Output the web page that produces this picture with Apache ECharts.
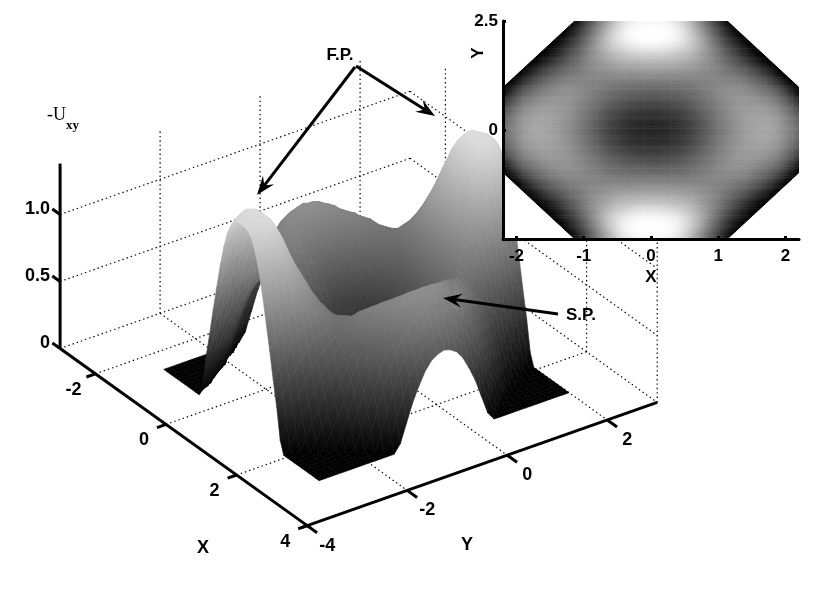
<!DOCTYPE html>
<html>
<head>
<meta charset="utf-8">
<title>-Uxy surface</title>
<style>
  html, body { margin: 0; padding: 0; background: #fff; }
  #chart { width: 819px; height: 591px; }
</style>
<script src="https://cdn.jsdelivr.net/npm/echarts@6/dist/echarts.min.js"></script>
</head>
<body>
<div id="chart"></div>
<script>
// node positions of one quadrant, the picture is symmetric in x and y
const xNodes = [0, 0.1, 0.2, 0.3, 0.4, 0.5, 0.6, 0.7, 0.8, 0.9, 1.0, 1.1, 1.2, 1.3, 1.4, 1.5, 1.6, 1.7, 1.8, 1.9, 2.0, 2.1, 2.2]
const yNodes = [0, 0.125, 0.25, 0.375, 0.5, 0.625, 0.75, 0.875, 1.0, 1.125, 1.25, 1.375, 1.5, 1.625, 1.75, 1.875, 2.0, 2.125, 2.25, 2.375, 2.5]

// level, 0 = black, 100 = white, one row per yNodes entry
const levels = [
  [15, 15, 16, 17, 19, 22, 26, 30, 35, 40, 45, 50, 54, 58, 61, 63, 65, 65, 64, 60, 55, 49, 42],
  [15, 16, 16, 18, 20, 23, 26, 31, 36, 41, 46, 50, 55, 58, 61, 63, 64, 65, 63, 60, 54, 48, 41],
  [17, 17, 18, 19, 21, 24, 28, 32, 37, 42, 47, 51, 55, 58, 61, 63, 64, 64, 62, 59, 53, 46, 39],
  [20, 20, 21, 22, 24, 27, 30, 34, 39, 43, 48, 52, 56, 59, 61, 62, 63, 62, 60, 57, 50, 43, 35],
  [24, 24, 25, 26, 28, 30, 33, 37, 41, 45, 49, 53, 57, 59, 60, 61, 61, 60, 57, 53, 46, 38, 29],
  [28, 28, 29, 30, 32, 34, 37, 40, 44, 47, 51, 54, 57, 59, 59, 59, 58, 56, 53, 48, 41, 32, 22],
  [33, 33, 34, 35, 36, 38, 40, 43, 46, 49, 52, 55, 57, 58, 58, 57, 55, 52, 48, 43, 35, 24, 13],
  [38, 38, 39, 39, 40, 42, 43, 45, 48, 50, 53, 55, 56, 56, 55, 53, 50, 47, 42, 36, 27, 15, 4],
  [43, 43, 43, 44, 44, 45, 46, 48, 50, 51, 52, 54, 54, 54, 52, 49, 45, 41, 35, 28, 18, 7, 0],
  [49, 49, 49, 49, 49, 49, 50, 50, 51, 52, 52, 52, 51, 50, 47, 44, 39, 34, 27, 19, 8, 0, 0],
  [55, 55, 55, 54, 54, 54, 54, 53, 53, 52, 51, 50, 48, 45, 42, 37, 32, 26, 18, 9, 0, 0, 0],
  [61, 61, 61, 60, 60, 59, 58, 56, 55, 53, 50, 47, 44, 40, 36, 31, 25, 18, 10, 1, 0, 0, 0],
  [68, 68, 67, 67, 66, 64, 62, 60, 57, 54, 50, 45, 40, 35, 29, 23, 16, 9, 2, 0, 0, 0, 0],
  [75, 75, 74, 73, 72, 70, 67, 63, 59, 54, 48, 42, 36, 29, 22, 15, 8, 1, 0, 0, 0, 0, 0],
  [83, 83, 82, 80, 78, 75, 71, 66, 60, 54, 47, 39, 32, 24, 16, 9, 2, 0, 0, 0, 0, 0, 0],
  [91, 91, 90, 88, 85, 81, 76, 69, 61, 53, 44, 35, 26, 18, 10, 3, 0, 0, 0, 0, 0, 0, 0],
  [97, 97, 96, 94, 91, 86, 79, 71, 61, 51, 40, 30, 21, 13, 5, 0, 0, 0, 0, 0, 0, 0, 0],
  [100, 100, 99, 97, 94, 88, 80, 70, 59, 47, 36, 25, 15, 6, 0, 0, 0, 0, 0, 0, 0, 0, 0],
  [100, 100, 100, 98, 94, 87, 78, 67, 55, 43, 31, 20, 9, 1, 0, 0, 0, 0, 0, 0, 0, 0, 0],
  [99, 99, 98, 96, 92, 84, 74, 62, 50, 38, 26, 14, 3, 0, 0, 0, 0, 0, 0, 0, 0, 0, 0],
  [97, 97, 96, 93, 88, 80, 70, 58, 46, 33, 21, 6, 0, 0, 0, 0, 0, 0, 0, 0, 0, 0, 0]
]

// tick labels
const xTicks3d = [-2, 0, 2, 4]
const yTicks3d = [-4, -2, 0, 2]
const zTicks3d = [0, 0.5, 1.0]
const insetXTicks = [-2, -1, 0, 1, 2]
const insetYTicks = [0, 2.5]

// where the octagon is cut, used to trim the inset corners
const cutAtTop = [1.15, 2.5]
const cutAtSide = [2.2, 1.0]

// axis box of the 3d plot and the oblique view
const xRange = [-3, 4]
const yRange = [-4, 3]
const zTop = 1.38
const view = { ox: 366, oy: 354, xx: 35.3, xy: 25.3, yx: 50, yy: -17.6, zy: -134 }
const surfaceShift = [0.72, -0.5]
const zPerLevel = 0.0154
const surfaceGain = 2.2
const insetGain = 2.55

function project(x, y, z) {
  return [view.ox + x * view.xx + y * view.yx, view.oy + x * view.xy + y * view.yy + z * view.zy]
}

const grayOf = (level, gain) => {
  const v = Math.min(255, Math.round(level * gain))
  return 'rgb(' + v + ',' + v + ',' + v + ')'
}

// mirror the quadrant to the whole surface
const fullX = xNodes.slice(1).reverse().map(v => -v).concat(xNodes)
const fullY = yNodes.slice(1).reverse().map(v => -v).concat(yNodes)
const levelAt = (i, j) => levels[Math.abs(j - yNodes.length + 1)][Math.abs(i - xNodes.length + 1)]

// far to near, so later quads cover earlier ones
const quads = []
for (let i = 0; i < fullX.length - 1; i++) {
  for (let j = fullY.length - 2; j >= 0; j--) {
    quads.push([i, j])
  }
}

// dotted grid lines on floor and the two walls
const gridSegments = []
xTicks3d.filter(v => v < 4).forEach(x => {
  gridSegments.push([x, yRange[0], 0, x, yRange[1], 0])
  gridSegments.push([x, yRange[1], 0, x, yRange[1], zTop])
})
yTicks3d.filter(v => v > -4).forEach(y => {
  gridSegments.push([xRange[0], y, 0, xRange[1], y, 0])
  gridSegments.push([xRange[0], y, 0, xRange[0], y, zTop])
})
zTicks3d.forEach(z => {
  gridSegments.push([xRange[0], yRange[0], z, xRange[0], yRange[1], z])
  gridSegments.push([xRange[0], yRange[1], z, xRange[1], yRange[1], z])
})
gridSegments.push([xRange[1], yRange[1], 0, xRange[1], yRange[1], zTop])

// solid axes and their ticks
const axisSegments = [
  [xRange[0], yRange[0], 0, xRange[0], yRange[0], zTop],
  [xRange[0], yRange[0], 0, xRange[1] + 0.1, yRange[0], 0],
  [xRange[1], yRange[0] - 0.1, 0, xRange[1], yRange[1], 0]
]
xTicks3d.forEach(x => axisSegments.push([x, yRange[0], 0, x, yRange[0] - 0.18, 0]))
yTicks3d.forEach(y => axisSegments.push([xRange[1], y, 0, xRange[1] + 0.28, y, 0]))
zTicks3d.forEach(z => axisSegments.push([xRange[0], yRange[0], z, xRange[0] - 0.22, yRange[0], z]))

const labels3d = []
xTicks3d.forEach(x => {
  const p = project(x, yRange[0], 0)
  labels3d.push([String(x), p[0] - 22, p[1] + 16, 'center'])
})
yTicks3d.forEach(y => {
  const p = project(xRange[1], y, 0)
  labels3d.push([String(y), p[0] + 20, p[1] + 20, 'center'])
})
zTicks3d.forEach(z => {
  const p = project(xRange[0], yRange[0], z)
  labels3d.push([z === 0 ? '0' : z.toFixed(1), p[0] - 10, p[1] - 5, 'right'])
})
labels3d.push(['X', 203, 548, 'center'])
labels3d.push(['Y', 467, 545, 'center'])

const arrows = [
  [355, 67, 257, 195],
  [356, 66, 435, 116],
  [558, 314, 443, 298]
]

const tickFont = { color: '#000', fontFamily: 'Liberation Sans', fontSize: 17, fontWeight: 'bold' }

function renderSegment(dashed) {
  return (params, api) => {
    const s = (dashed ? gridSegments : axisSegments)[params.dataIndex]
    const a = api.coord(project(s[0], s[1], s[2]))
    const b = api.coord(project(s[3], s[4], s[5]))
    return {
      type: 'line',
      shape: { x1: a[0], y1: a[1], x2: b[0], y2: b[1] },
      style: dashed
        ? { stroke: '#000', lineWidth: 1.2, lineDash: [1.4, 3], fill: null }
        : { stroke: '#000', lineWidth: 3, fill: null }
    }
  }
}

function renderQuad(params, api) {
  const q = quads[params.dataIndex]
  const corners = [[q[0], q[1]], [q[0] + 1, q[1]], [q[0] + 1, q[1] + 1], [q[0], q[1] + 1]]
  const cornerLevels = corners.map(c => levelAt(c[0], c[1]))
  const points = corners.map((c, k) =>
    api.coord(project(fullX[c[0]] + surfaceShift[0], fullY[c[1]] + surfaceShift[1], cornerLevels[k] * zPerLevel))
  )
  const low = cornerLevels.indexOf(Math.min.apply(null, cornerLevels))
  const high = cornerLevels.indexOf(Math.max.apply(null, cornerLevels))
  const lowColor = grayOf(cornerLevels[low], surfaceGain)
  const highColor = grayOf(cornerLevels[high], surfaceGain)
  // shade each quad from its lowest to its highest corner
  const fill = low === high
    ? lowColor
    : new echarts.graphic.LinearGradient(points[low][0], points[low][1], points[high][0], points[high][1], [
      { offset: 0, color: lowColor },
      { offset: 1, color: highColor }
    ], true)
  return {
    type: 'polygon',
    shape: { points: points },
    style: { fill: fill, stroke: fill, lineWidth: 0.6 }
  }
}

const subRows = 3

function renderCell(params, api) {
  const q = quads[params.dataIndex]
  const i = q[0]
  const j = q[1]
  const children = []
  const x0 = api.coord([fullX[i], 0])[0]
  const x1 = api.coord([fullX[i + 1], 0])[0]
  for (let k = 0; k < subRows; k++) {
    // shading across one cell between its corner levels
    const t = (k + 0.5) / subRows
    const left = levelAt(i, j) * (1 - t) + levelAt(i, j + 1) * t
    const right = levelAt(i + 1, j) * (1 - t) + levelAt(i + 1, j + 1) * t
    const yA = api.coord([0, fullY[j] + (fullY[j + 1] - fullY[j]) * (k + 1) / subRows])[1]
    const yB = api.coord([0, fullY[j] + (fullY[j + 1] - fullY[j]) * k / subRows])[1]
    const fill = new echarts.graphic.LinearGradient(x0, 0, x1, 0, [
      { offset: 0, color: grayOf(left, insetGain) },
      { offset: 1, color: grayOf(right, insetGain) }
    ], true)
    children.push({
      type: 'rect',
      shape: { x: x0, y: yA, width: x1 - x0 + 0.5, height: yB - yA + 0.5 },
      style: { fill: fill }
    })
  }
  return { type: 'group', children: children }
}

const insetCorners = [[1, 1], [1, -1], [-1, 1], [-1, -1]]

function renderCorner(params, api) {
  const s = insetCorners[params.dataIndex]
  return {
    type: 'polygon',
    shape: {
      points: [
        api.coord([s[0] * cutAtTop[0], s[1] * cutAtTop[1]]),
        api.coord([s[0] * cutAtSide[0], s[1] * cutAtTop[1]]),
        api.coord([s[0] * cutAtSide[0], s[1] * cutAtSide[1]])
      ]
    },
    style: { fill: '#fff', stroke: '#fff', lineWidth: 1 }
  }
}

function renderLabel(params, api) {
  const l = labels3d[params.dataIndex]
  const p = api.coord([l[1], l[2]])
  return {
    type: 'text',
    x: p[0],
    y: p[1],
    style: {
      text: l[0],
      align: l[3],
      verticalAlign: 'middle',
      fill: tickFont.color,
      font: 'bold 18px "Liberation Sans"'
    }
  }
}

function renderArrow(params, api) {
  const r = arrows[params.dataIndex]
  const a = api.coord([r[0], r[1]])
  const b = api.coord([r[2], r[3]])
  const len = Math.hypot(b[0] - a[0], b[1] - a[1])
  const ux = (b[0] - a[0]) / len
  const uy = (b[1] - a[1]) / len
  const at = (back, side) => [b[0] - ux * back - uy * side, b[1] - uy * back + ux * side]
  return {
    type: 'group',
    children: [
      {
        type: 'line',
        shape: { x1: a[0], y1: a[1], x2: at(8, 0)[0], y2: at(8, 0)[1] },
        style: { stroke: '#000', lineWidth: 3, fill: null }
      },
      {
        type: 'polygon',
        shape: { points: [b, at(19, 7), at(12, 0), at(19, -7)] },
        style: { fill: '#000' }
      }
    ]
  }
}

const customBase = { type: 'custom', coordinateSystem: 'cartesian2d', animation: false, silent: true, progressive: 0 }
const indexData = list => list.map((d, i) => [i, 0])

const chart = echarts.init(document.getElementById('chart'), null, { renderer: 'canvas' })

chart.setOption({
  animation: false,
  backgroundColor: '#fff',
  grid: [
    { left: 0, top: 0, width: 819, height: 591, show: false },
    { left: 503, top: 21, width: 296, height: 218, show: false, z: 10 }
  ],
  xAxis: [
    { type: 'value', gridIndex: 0, min: 0, max: 819, show: false },
    {
      type: 'value',
      gridIndex: 1,
      min: -2.2,
      max: 2.2,
      z: 20,
      name: 'X',
      nameLocation: 'middle',
      nameGap: 30,
      nameTextStyle: tickFont,
      axisLine: { onZero: false, lineStyle: { color: '#000', width: 3 } },
      axisTick: { inside: true, length: 3, customValues: insetXTicks, lineStyle: { color: '#000', width: 3 } },
      axisLabel: Object.assign({ customValues: insetXTicks, margin: 9 }, tickFont),
      splitLine: { show: false }
    }
  ],
  yAxis: [
    { type: 'value', gridIndex: 0, min: 0, max: 591, inverse: true, show: false },
    {
      type: 'value',
      gridIndex: 1,
      min: -2.5,
      max: 2.5,
      z: 20,
      axisLine: { onZero: false, lineStyle: { color: '#000', width: 3 } },
      axisTick: { inside: true, length: 3, customValues: insetYTicks, lineStyle: { color: '#000', width: 3 } },
      axisLabel: Object.assign({ customValues: insetYTicks, margin: 5 }, tickFont),
      splitLine: { show: false }
    }
  ],
  series: [
    Object.assign({}, customBase, { name: 'grid', z: 2, clip: false, data: indexData(gridSegments), renderItem: renderSegment(true) }),
    Object.assign({}, customBase, { name: 'surface', z: 3, clip: false, data: indexData(quads), renderItem: renderQuad }),
    Object.assign({}, customBase, { name: 'axes', z: 4, clip: false, data: indexData(axisSegments), renderItem: renderSegment(false) }),
    Object.assign({}, customBase, { name: 'labels', z: 5, clip: false, data: indexData(labels3d), renderItem: renderLabel }),
    Object.assign({}, customBase, { name: 'arrows', z: 6, clip: false, data: indexData(arrows), renderItem: renderArrow }),
    Object.assign({}, customBase, { name: 'inset', z: 10, xAxisIndex: 1, yAxisIndex: 1, clip: true, data: quads.map(q => [fullX[q[0]], fullY[q[1]]]), renderItem: renderCell }),
    Object.assign({}, customBase, { name: 'inset corners', z: 11, xAxisIndex: 1, yAxisIndex: 1, clip: true, data: insetCorners, renderItem: renderCorner })
  ],
  graphic: [
    { type: 'text', x: 340, y: 55, z: 30, style: { text: 'F.P.', align: 'center', verticalAlign: 'middle', fill: '#000', font: 'bold 17px "Liberation Sans"' } },
    { type: 'text', x: 581, y: 315, z: 30, style: { text: 'S.P.', align: 'center', verticalAlign: 'middle', fill: '#000', font: 'bold 17px "Liberation Sans"' } },
    { type: 'text', x: 47, y: 115, z: 30, style: { text: '-U', verticalAlign: 'middle', fill: '#000', font: '18px "Liberation Serif"' } },
    { type: 'text', x: 66, y: 126, z: 30, style: { text: 'xy', verticalAlign: 'middle', fill: '#000', font: 'bold 13px "Liberation Serif"' } },
    { type: 'text', x: 478, y: 53, z: 30, rotation: Math.PI / 2, style: { text: 'Y', align: 'center', verticalAlign: 'middle', fill: '#000', font: 'bold 17px "Liberation Sans"' } }
  ]
})

window.addEventListener('resize', () => chart.resize())
</script>
</body>
</html>
